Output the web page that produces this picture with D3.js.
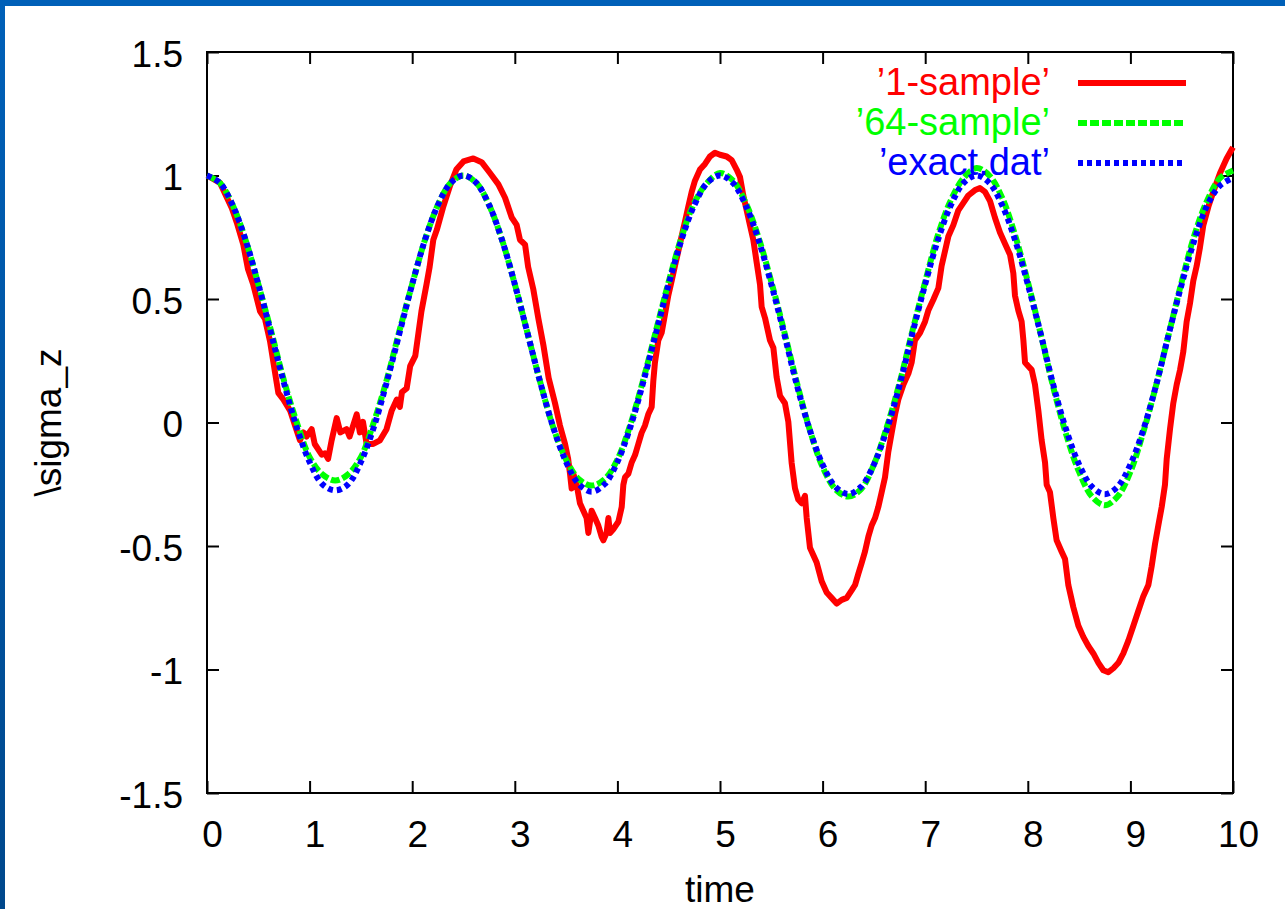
<!DOCTYPE html>
<html>
<head>
<meta charset="utf-8">
<script src="https://cdn.jsdelivr.net/npm/d3@7"></script>
<style>
  html, body { margin: 0; padding: 0; background: #fff; }
  svg { display: block; }
  text { font-family: "Liberation Sans", Arial, sans-serif; }
</style>
</head>
<body>
<div id="container"></div>
<script>
// sampling times for the two smooth curves (every 0.125)
const timeGrid = d3.range(0, 10.0001, 0.125)

// 'exact.dat'
const exactVals = [
  1.00, 0.97, 0.88, 0.74, 0.56, 0.36, 0.16, -0.02, -0.16, -0.25, -0.275, -0.25, -0.16, -0.02, 0.16, 0.36, 0.56, 0.74, 0.88, 0.97, 1.00,
  0.97, 0.88, 0.74, 0.56, 0.36, 0.16, -0.02, -0.16, -0.25, -0.28, -0.25, -0.16, -0.02, 0.16, 0.36, 0.56, 0.74, 0.88, 0.97, 1.00,
  0.97, 0.88, 0.74, 0.56, 0.36, 0.15, -0.03, -0.17, -0.26, -0.29, -0.26, -0.17, -0.03, 0.15, 0.36, 0.56, 0.74, 0.88, 0.97, 1.00,
  0.97, 0.88, 0.74, 0.56, 0.36, 0.15, -0.03, -0.17, -0.26, -0.29, -0.26, -0.17, -0.03, 0.15, 0.36, 0.56, 0.74, 0.88, 0.96, 0.99
]

// '64-sample'
const sample64Vals = [
  1.00, 0.97, 0.88, 0.74, 0.56, 0.37, 0.17, 0.00, -0.14, -0.21, -0.235, -0.21, -0.14, 0.00, 0.17, 0.37, 0.56, 0.74, 0.88, 0.97, 1.00,
  0.97, 0.88, 0.74, 0.56, 0.36, 0.16, -0.02, -0.15, -0.23, -0.255, -0.23, -0.15, -0.01, 0.17, 0.37, 0.57, 0.75, 0.89, 0.97, 1.01,
  0.98, 0.89, 0.75, 0.57, 0.37, 0.16, -0.03, -0.18, -0.27, -0.30, -0.27, -0.17, -0.02, 0.16, 0.37, 0.57, 0.76, 0.90, 0.99, 1.03,
  1.00, 0.91, 0.76, 0.57, 0.36, 0.14, -0.05, -0.20, -0.30, -0.335, -0.30, -0.20, -0.04, 0.15, 0.36, 0.57, 0.76, 0.90, 0.99, 1.02
]

// '1-sample' : [time, sigma_z]
const sample1Pts = [
  [0,1.0],[0.127,0.97],[0.24,0.87],[0.29,0.81],[0.354,0.72],[0.40,0.62],[0.45,0.56],[0.517,0.45],[0.565,0.42],[0.614,0.33],
  [0.66,0.21],[0.695,0.12],[0.744,0.093],[0.81,0.048],[0.858,-0.012],[0.906,-0.072],[0.94,-0.04],[0.97,-0.057],[1.02,-0.027],
  [1.05,-0.087],[1.118,-0.13],[1.15,-0.125],[1.18,-0.147],[1.215,-0.072],[1.264,0.018],[1.30,-0.04],[1.36,-0.027],[1.39,-0.057],
  [1.459,0.033],[1.49,-0.04],[1.52,0.003],[1.556,-0.087],[1.62,-0.087],[1.686,-0.072],[1.75,-0.027],[1.80,0.048],[1.85,0.093],
  [1.88,0.063],[1.90,0.123],[1.946,0.138],[1.98,0.228],[2.03,0.27],[2.06,0.36],[2.09,0.45],[2.14,0.56],[2.17,0.63],[2.206,0.74],
  [2.24,0.78],[2.30,0.87],[2.37,0.96],[2.43,1.024],[2.5,1.057],[2.596,1.069],[2.677,1.054],[2.76,1.009],[2.84,0.964],[2.905,0.91],
  [2.97,0.83],[3.018,0.80],[3.05,0.74],[3.10,0.72],[3.13,0.63],[3.18,0.54],[3.23,0.42],[3.28,0.31],[3.33,0.18],[3.392,0.078],
  [3.44,-0.012],[3.49,-0.087],[3.52,-0.147],[3.538,-0.207],[3.554,-0.267],[3.57,-0.207],[3.603,-0.252],[3.635,-0.327],[3.668,-0.357],
  [3.70,-0.387],[3.717,-0.447],[3.749,-0.357],[3.782,-0.387],[3.814,-0.417],[3.846,-0.462],[3.863,-0.477],[3.895,-0.447],[3.912,-0.387],
  [3.928,-0.447],[3.96,-0.432],[4.009,-0.402],[4.042,-0.342],[4.058,-0.252],[4.074,-0.222],[4.107,-0.207],[4.139,-0.162],[4.172,-0.132],
  [4.204,-0.087],[4.236,-0.042],[4.269,-0.012],[4.301,0.033],[4.334,0.063],[4.35,0.168],[4.366,0.243],[4.399,0.333],[4.431,0.363],
  [4.464,0.438],[4.496,0.514],[4.529,0.574],[4.561,0.634],[4.594,0.694],[4.626,0.754],[4.659,0.814],[4.691,0.874],[4.724,0.934],
  [4.756,0.979],[4.805,1.024],[4.854,1.047],[4.902,1.077],[4.951,1.092],[5.0,1.084],[5.065,1.077],[5.114,1.062],[5.162,1.024],
  [5.195,0.994],[5.227,0.919],[5.26,0.859],[5.292,0.799],[5.325,0.739],[5.357,0.649],[5.39,0.559],[5.406,0.468],[5.439,0.423],
  [5.487,0.333],[5.52,0.303],[5.552,0.183],[5.585,0.108],[5.633,0.078],[5.666,0.003],[5.698,-0.162],[5.731,-0.267],[5.763,-0.312],
  [5.796,-0.327],[5.828,-0.297],[5.845,-0.387],[5.877,-0.507],[5.91,-0.537],[5.942,-0.567],[5.991,-0.643],[6.04,-0.688],[6.088,-0.71],
  [6.137,-0.733],[6.186,-0.718],[6.235,-0.71],[6.283,-0.68],[6.316,-0.658],[6.348,-0.613],[6.381,-0.568],[6.413,-0.523],[6.446,-0.462],
  [6.478,-0.417],[6.511,-0.387],[6.543,-0.342],[6.576,-0.282],[6.608,-0.222],[6.641,-0.117],[6.673,-0.042],[6.706,0.033],[6.738,0.093],
  [6.787,0.153],[6.836,0.198],[6.868,0.243],[6.9,0.333],[6.95,0.363],[6.998,0.408],[7.03,0.453],[7.08,0.498],[7.128,0.544],[7.16,0.634],
  [7.193,0.694],[7.226,0.754],[7.274,0.799],[7.323,0.859],[7.372,0.889],[7.42,0.919],[7.486,0.941],[7.534,0.949],[7.583,0.934],
  [7.632,0.896],[7.68,0.829],[7.729,0.769],[7.778,0.724],[7.827,0.679],[7.859,0.604],[7.875,0.514],[7.908,0.453],[7.94,0.408],
  [7.957,0.333],[7.973,0.243],[8.005,0.228],[8.038,0.213],[8.07,0.153],[8.103,0.048],[8.135,-0.072],[8.168,-0.162],[8.184,-0.252],
  [8.216,-0.282],[8.249,-0.387],[8.281,-0.477],[8.33,-0.523],[8.363,-0.553],[8.395,-0.658],[8.444,-0.748],[8.493,-0.823],[8.541,-0.868],
  [8.59,-0.905],[8.639,-0.935],[8.688,-0.973],[8.736,-1.003],[8.785,-1.011],[8.834,-0.995],[8.883,-0.973],[8.931,-0.935],[8.98,-0.883],
  [9.029,-0.823],[9.077,-0.763],[9.126,-0.703],[9.175,-0.658],[9.207,-0.583],[9.24,-0.492],[9.272,-0.417],[9.305,-0.342],[9.337,-0.252],
  [9.354,-0.147],[9.386,-0.027],[9.418,0.078],[9.451,0.153],[9.484,0.213],[9.516,0.288],[9.548,0.408],[9.581,0.483],[9.613,0.574],
  [9.646,0.634],[9.678,0.709],[9.711,0.799],[9.76,0.874],[9.808,0.934],[9.873,1.009],[9.938,1.069],[10.0,1.114]
]

const xTicks = [0, 1, 2, 3, 4, 5, 6, 7, 8, 9, 10]
const yTicks = [-1.5, -1, -0.5, 0, 0.5, 1, 1.5]
const seriesNames = ["’1-sample’", "’64-sample’", "’exact.dat’"]

const w = 1285
const h = 909
const plotL = 207, plotR = 1233, plotT = 52, plotB = 793
const fontSize = 37

const xScale = d3.scaleLinear().domain([0, 10]).range([plotL, plotR])
const yScale = d3.scaleLinear().domain([-1.5, 1.5]).range([plotB, plotT])

const svg = d3.select("#container")
    .append("svg")
    .attr("width", w)
    .attr("height", h)

svg.append("rect").attr("width", w).attr("height", h).attr("fill", "#fff")

// slide frame (blue bands on top and left)
const grad = svg.append("defs").append("linearGradient")
    .attr("id", "side").attr("x1", 0).attr("y1", 0).attr("x2", 0).attr("y2", 1)
grad.append("stop").attr("offset", "0%").attr("stop-color", "#0060b8")
grad.append("stop").attr("offset", "100%").attr("stop-color", "#00488c")
svg.append("rect").attr("x", 0).attr("y", 0).attr("width", w).attr("height", 6).attr("fill", "#0060b8")
svg.append("rect").attr("x", 0).attr("y", 0).attr("width", 5).attr("height", h).attr("fill", "url(#side)")

// axes, ticks pointing inward like gnuplot
const styleAxis = g => {
    g.select(".domain").remove()
    g.selectAll(".tick line").attr("stroke", "#000").attr("stroke-width", 2)
    g.selectAll("text").attr("fill", "#000").style("font-size", fontSize + "px")
}

svg.append("g")
    .attr("transform", `translate(0, ${plotB})`)
    .call(d3.axisBottom(xScale).tickValues(xTicks).tickSize(-12).tickPadding(28).tickFormat(d => String(d)))
    .call(styleAxis)
    .call(g => g.selectAll("text").attr("dx", 5))

svg.append("g")
    .attr("transform", `translate(0, ${plotT})`)
    .call(d3.axisTop(xScale).tickValues(xTicks).tickSize(-12).tickFormat(""))
    .call(styleAxis)

svg.append("g")
    .attr("transform", `translate(${plotL}, 0)`)
    .call(d3.axisLeft(yScale).tickValues(yTicks).tickSize(-12).tickPadding(24).tickFormat(d => String(d)))
    .call(styleAxis)
    .call(g => g.selectAll("text").attr("dy", "0.38em"))

svg.append("g")
    .attr("transform", `translate(${plotR}, 0)`)
    .call(d3.axisRight(yScale).tickValues(yTicks).tickSize(-12).tickFormat(""))
    .call(styleAxis)

svg.append("rect")
    .attr("x", plotL).attr("y", plotT)
    .attr("width", plotR - plotL).attr("height", plotB - plotT)
    .attr("fill", "none").attr("stroke", "#000").attr("stroke-width", 2)

// axis titles
svg.append("text")
    .attr("x", (plotL + plotR) / 2).attr("y", 902)
    .attr("text-anchor", "middle")
    .style("font-size", fontSize + "px")
    .text("time")

svg.append("text")
    .attr("transform", `translate(61, ${(plotT + plotB) / 2}) rotate(-90)`)
    .attr("text-anchor", "middle")
    .style("font-size", fontSize + "px")
    .text("\\sigma_z")

// series
const series = [
    { name: seriesNames[0], color: "#ff0000", dash: null, pts: sample1Pts, curve: d3.curveLinear },
    { name: seriesNames[1], color: "#00ff00", dash: "9,3", pts: timeGrid.map((t, i) => [t, sample64Vals[i]]), curve: d3.curveCatmullRom },
    { name: seriesNames[2], color: "#0000ff", dash: "5,4", pts: timeGrid.map((t, i) => [t, exactVals[i]]), curve: d3.curveCatmullRom }
]

series.forEach((s, i) => {
    const ky = 83 + i * 40
    svg.append("text")
        .attr("x", 1050).attr("y", ky + 12)
        .attr("text-anchor", "end")
        .attr("fill", s.color)
        .style("font-size", (fontSize + 1) + "px")
        .text(s.name)
    svg.append("line")
        .attr("x1", 1078).attr("x2", 1186)
        .attr("y1", ky).attr("y2", ky)
        .attr("stroke", s.color).attr("stroke-width", 6)
        .attr("stroke-dasharray", s.dash)

    const line = d3.line()
        .x(d => xScale(d[0]))
        .y(d => yScale(d[1]))
        .curve(s.curve)
    svg.append("path")
        .datum(s.pts)
        .attr("d", line)
        .attr("fill", "none")
        .attr("stroke", s.color)
        .attr("stroke-width", 6)
        .attr("stroke-linejoin", "round")
        .attr("stroke-dasharray", s.dash)
})
</script>
</body>
</html>
